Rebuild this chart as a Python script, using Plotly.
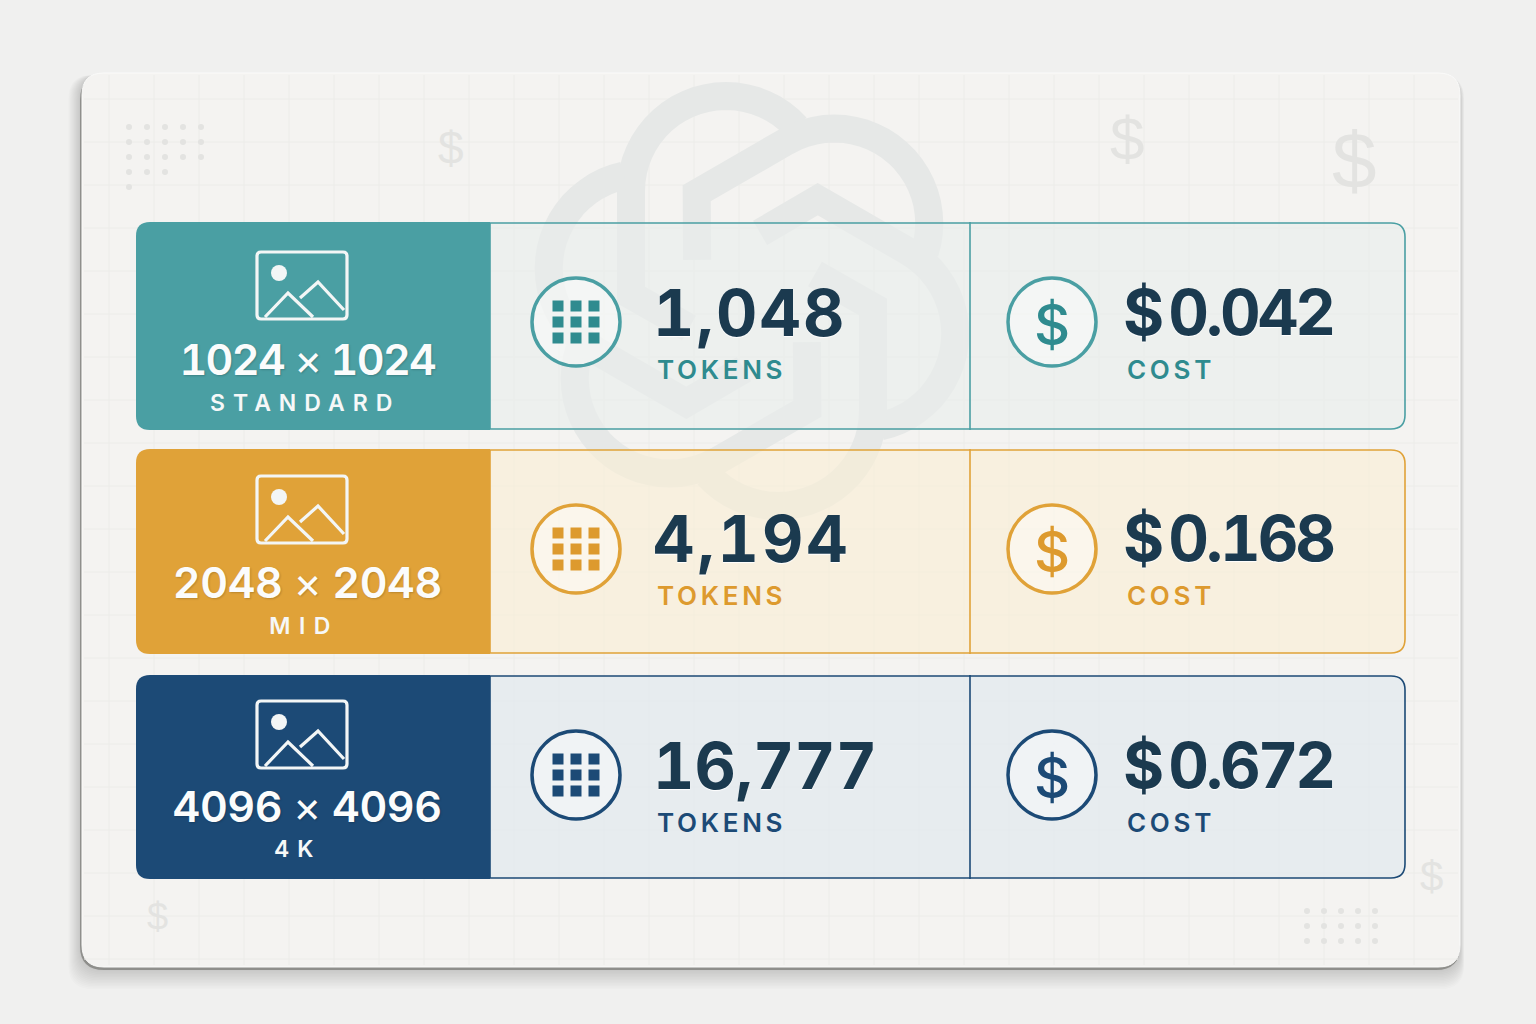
import json
import numpy as np
import plotly.graph_objects as go

# values
Sizes = ["1024 <span style='font-weight:400'>×</span> 1024",
         "2048 <span style='font-weight:400'>×</span> 2048",
         "4096 <span style='font-weight:400'>×</span> 4096"]
Tiers = ["STANDARD", "MID", "4K"]
Tokens = ["1,048", "4,194", "16,777"]
Costs = ["$0.042", "$0.168", "$0.672"]
Token_Label = "TOKENS"
Cost_Label = "COST"

# colours per row
Accent = ["#4a9fa3", "#e0a238", "#1c4a76"]
Label_Color = ["#2f8b8f", "#dd9a2e", "#1c4a76"]
Panel_Fill = ["rgba(233,237,236,0.62)", "rgba(250,238,212,0.6)", "rgba(226,233,239,0.72)"]
Number_Color = "#1b3a4f"
Mark_Color = "#e3e3e1"

# layout in image pixels
Row_Top = [222, 449, 675]
Row_Bottom = [430, 654, 879]
Icon_Top = [252, 476, 701]
Mid_Y = [322, 549, 775]
Number_Y = [312, 538, 765]
Label_Y = [369, 595, 822]
Size_Y = [359, 582, 806]
Tier_Y = [403, 626, 849]
Tier_X = [305, 304, 298]
Token_Gap = [2.2, 3, 0]
Size_Gap = [-1.6, -0.4, -0.4]
Left = 136
Split1 = 490
Split2 = 970
Right = 1405


def rounded(x0, y0, x1, y1, r):
    return (f"M {x0+r} {y0} L {x1-r} {y0} Q {x1} {y0} {x1} {y0+r} L {x1} {y1-r} Q {x1} {y1} {x1-r} {y1} "
            f"L {x0+r} {y1} Q {x0} {y1} {x0} {y1-r} L {x0} {y0+r} Q {x0} {y0} {x0+r} {y0} Z")


def left_round(x0, y0, x1, y1, r):
    return (f"M {x0+r} {y0} L {x1} {y0} L {x1} {y1} L {x0+r} {y1} Q {x0} {y1} {x0} {y1-r} "
            f"L {x0} {y0+r} Q {x0} {y0} {x0+r} {y0} Z")


def right_round(x0, y0, x1, y1, r):
    return (f"M {x0} {y0} L {x1-r} {y0} Q {x1} {y0} {x1} {y0+r} L {x1} {y1-r} Q {x1} {y1} {x1-r} {y1} "
            f"L {x0} {y1} Z")


shapes = []


def add_path(path, fill="rgba(0,0,0,0)", line="rgba(0,0,0,0)", width=0):
    shapes.append(dict(type="path", path=path, fillcolor=fill, line=dict(color=line, width=width), layer="below"))


# card shadow, soft layers then the dark lower edge
for s in range(14, 0, -1):
    add_path(rounded(81 - s * 0.9, 75, 1460 + s * 0.3, 968 + s * 1.5, 24), fill="rgba(60,60,60,0.014)")
add_path(rounded(80, 76, 1460, 970, 24), fill="#8f8f8c")
add_path(rounded(82, 73, 1460, 967, 22), fill="#f4f3f1", line="#fbfbfa", width=1)

# paper grid
grid = ""
for x in np.arange(109, 1456, 45):
    grid += f"M {x} 75 L {x} 965 "
for y in np.arange(99, 965, 43):
    grid += f"M 84 {y} L 1458 {y} "
add_path(grid, line="#ecece9", width=1)

# faint knot logo behind the rows, one bent stroke turned six times
logo_x = 752
logo_y = 301
arc = np.radians(np.arange(180, 322, 6))
part_x = np.concatenate([[-63, -121], -26 + 95 * np.cos(arc)])
part_y = np.concatenate([[27, -6], -110 + 95 * np.sin(arc)])
for k in range(6):
    a = np.radians(60 * k)
    xs = logo_x + part_x * np.cos(a) - part_y * np.sin(a)
    ys = logo_y + part_x * np.sin(a) + part_y * np.cos(a)
    add_path("M " + " L ".join(f"{px:.1f} {py:.1f}" for px, py in zip(xs, ys)), line="#e6e8e7", width=28)

# rows
for i in range(3):
    top = Row_Top[i]
    bot = Row_Bottom[i]
    add_path(right_round(Split1, top + 1, Right, bot - 1, 14), fill=Panel_Fill[i], line=Accent[i], width=1.6)
    add_path(left_round(Left, top, Split1, bot, 14), fill=Accent[i])
    add_path(f"M {Split2} {top} L {Split2} {bot}", line=Accent[i], width=1.6)
    for cx in [576, 1052]:
        shapes.append(dict(type="circle", x0=cx - 44, x1=cx + 44, y0=Mid_Y[i] - 44, y1=Mid_Y[i] + 44,
                           fillcolor="rgba(255,255,255,0.4)", line=dict(color=Accent[i], width=3.5), layer="below"))
    # picture icon
    t = Icon_Top[i]
    add_path(rounded(257, t, 347, t + 67, 4), line="#f3f6f6", width=3.2)
    shapes.append(dict(type="circle", x0=271, x1=287, y0=t + 13, y1=t + 29, fillcolor="#f3f6f6",
                       line=dict(width=0), layer="below"))
    add_path(f"M 265 {t+65} L 288 {t+41} L 313 {t+65}", line="#f3f6f6", width=3.2)
    add_path(f"M 300 {t+46} L 318 {t+30} L 344 {t+58}", line="#f3f6f6", width=3.2)

# specks in two corners
dot_x = []
dot_y = []
for y, count in zip([127, 142, 157, 172, 187], [5, 5, 5, 3, 1]):
    for n in range(count):
        dot_x.append(129 + n * 18)
        dot_y.append(y)
for y in [911, 926, 941]:
    for n in range(5):
        dot_x.append(1307 + n * 17)
        dot_y.append(y)

fig = go.Figure()
fig.add_trace(go.Scatter(x=dot_x, y=dot_y, mode="markers", hoverinfo="skip",
                         marker=dict(color=Mark_Color, size=6, line=dict(width=0))))

# token icon, 3x3 squares
for i in range(3):
    sq_x = []
    sq_y = []
    for dy in [-16, 0, 16]:
        for dx in [-18, 0, 18]:
            sq_x.append(576 + dx)
            sq_y.append(Mid_Y[i] + dy)
    fig.add_trace(go.Scatter(x=sq_x, y=sq_y, mode="markers", hoverinfo="skip",
                             marker=dict(symbol="square", color=Label_Color[i], size=11, line=dict(width=0))))

notes = []


def add_text(x, y, text, size, color, weight=600, anchor="left", font="Inter", shadow="none"):
    notes.append(dict(x=x, y=y, text=text, showarrow=False, xanchor=anchor, yanchor="middle", align=anchor,
                      font=dict(family=font, size=size, color=color, weight=weight, shadow=shadow)))


# background dollar signs
for x, y, s in zip([451, 1127, 1354, 1431, 157], [148, 138, 160, 876, 917], [46, 62, 80, 42, 38]):
    add_text(x, y, "$", s, Mark_Color, weight=500, anchor="center", font="Liberation Sans")

for i in range(3):
    add_text(307, Size_Y[i], Sizes[i], 43, "#fbfcfc", anchor="center", shadow="1px 1px 2px rgba(0,0,0,0.18)")
    add_text(Tier_X[i], Tier_Y[i], Tiers[i], 23, "#f6f8f8", anchor="center")
    add_text(651, Number_Y[i], Tokens[i], 64, Number_Color, weight=700, shadow="0 1px 1px #ffffff")
    add_text(1121, Number_Y[i], Costs[i], 63, Number_Color, weight=700, shadow="0 1px 1px #ffffff")
    add_text(655, Label_Y[i], Token_Label, 26, Label_Color[i])
    add_text(1125, Label_Y[i], Cost_Label, 26, Label_Color[i])
    add_text(1052, Mid_Y[i] + 3, "$", 56, Label_Color[i], weight=500, anchor="center")

fig.update_layout(
    width=1536, height=1024, autosize=False, showlegend=False,
    margin=dict(l=0, r=0, t=0, b=0),
    paper_bgcolor="#f0f0ef", plot_bgcolor="#f0f0ef",
    xaxis=dict(range=[0, 1536], visible=False, fixedrange=True),
    yaxis=dict(range=[1024, 0], visible=False, fixedrange=True),
    shapes=shapes, annotations=notes,
)

# plotly has no letter spacing, so it goes in as css
css = ""
for word, gap in [("STANDARD", 8), ("MID", 8.5), ("4K", 8), (Token_Label, 3.7), (Cost_Label, 3.7)]:
    css += f'text[data-unformatted="{word}"]{{letter-spacing:{gap}px}}'
for word, gap in zip(Tokens, Token_Gap):
    css += f'text[data-unformatted="{word}"]{{letter-spacing:{gap}px;font-feature-settings:"tnum"}}'
for word in Costs:
    css += f'text[data-unformatted="{word}"]{{letter-spacing:-3px;font-feature-settings:"tnum"}}'
for word, gap in zip(Sizes, Size_Gap):
    css += f'text[data-unformatted^="{word[:4]}"]{{letter-spacing:{gap}px;font-feature-settings:"tnum"}}'
post = ("document.body.style.margin='0';document.body.style.overflow='hidden';"
        "var st=document.createElement('style');st.textContent=" + json.dumps(css) + ";document.head.appendChild(st);"
        "document.querySelectorAll('text[data-unformatted^=\"$0\"]').forEach(function(t){t.setAttribute('dx','0 7');});")

fig.write_html("out.html", post_script=post, config=dict(displayModeBar=False))
